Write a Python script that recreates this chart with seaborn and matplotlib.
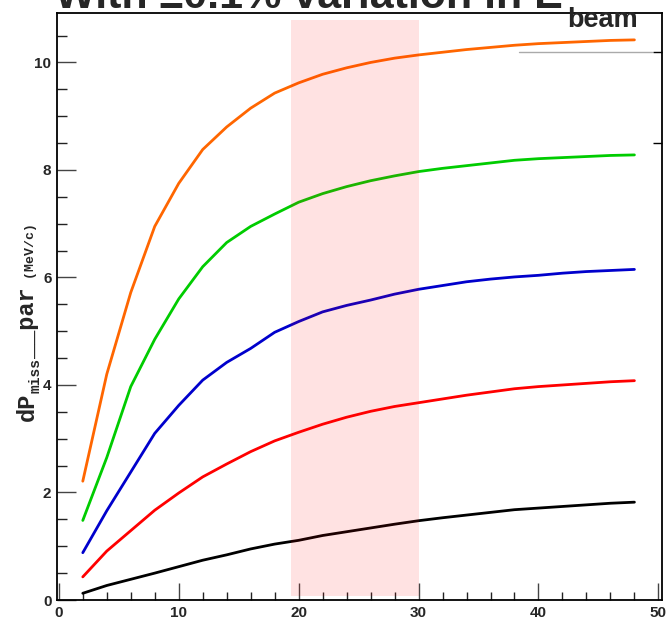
import numpy as np
import pandas as pd
import matplotlib
matplotlib.use("Agg")
import matplotlib.pyplot as plt
import seaborn as sns

# Beam energy points (GeV) shared by all curves
e_beam = [2, 4, 6, 8, 10, 12, 14, 16, 18, 20, 22, 24,
          26, 28, 30, 32, 34, 36, 38, 40, 42, 44, 46, 48]

# dP_miss parallel shift (MeV/c) for each curve
curve_orange = [2.21, 4.20, 5.72, 6.95, 7.75, 8.38, 8.80, 9.15, 9.43, 9.62, 9.78, 9.90,
                10.00, 10.08, 10.14, 10.19, 10.24, 10.28, 10.32, 10.35, 10.37, 10.39, 10.41, 10.42]
curve_green = [1.48, 2.65, 3.97, 4.85, 5.60, 6.20, 6.65, 6.95, 7.18, 7.40, 7.56, 7.69,
               7.80, 7.89, 7.97, 8.03, 8.08, 8.13, 8.18, 8.21, 8.23, 8.25, 8.27, 8.28]
curve_blue = [0.88, 1.66, 2.38, 3.10, 3.62, 4.09, 4.42, 4.68, 4.98, 5.18, 5.36, 5.48,
              5.58, 5.69, 5.78, 5.85, 5.92, 5.97, 6.01, 6.04, 6.08, 6.11, 6.13, 6.15]
curve_red = [0.43, 0.91, 1.29, 1.67, 1.99, 2.29, 2.53, 2.76, 2.96, 3.12, 3.27, 3.40,
             3.51, 3.60, 3.67, 3.74, 3.81, 3.87, 3.93, 3.97, 4.00, 4.03, 4.06, 4.08]
curve_black = [0.125, 0.27, 0.385, 0.50, 0.62, 0.74, 0.84, 0.95, 1.04, 1.11, 1.20, 1.27,
               1.34, 1.41, 1.475, 1.53, 1.58, 1.63, 1.68, 1.71, 1.74, 1.77, 1.80, 1.82]

curve_names = ["orange", "green", "blue", "red", "black"]
curve_colors = ["#FF6600", "#00CC00", "#0000CC", "#FF0000", "#000000"]

# Highlighted beam-energy window
band_lo, band_hi = 19.33, 30.0

sns.set_style("white")

frames = []
for name, vals in zip(curve_names,
                      [curve_orange, curve_green, curve_blue, curve_red, curve_black]):
    frames.append(pd.DataFrame({"E": e_beam, "dP": vals, "curve": name}))
df = pd.concat(frames, ignore_index=True)

W, H = 670, 624
fig = plt.figure(figsize=(W / 100, H / 100), dpi=100)
ax = fig.add_axes([57 / W, 24 / H, 605 / W, 587 / H])

sns.lineplot(data=df, x="E", y="dP", hue="curve", hue_order=curve_names,
             palette=dict(zip(curve_names, curve_colors)), estimator=None,
             sort=False, linewidth=2.0, legend=False, ax=ax)

ax.axvspan(band_lo, band_hi, ymin=0.006, ymax=0.988, color="#FF0000",
           alpha=0.115, linewidth=0, zorder=5)

ax.set_xlim(-0.15, 50.3)
ax.set_ylim(0, 10.92)
ax.set_xlabel("")
ax.set_ylabel("")

ax.set_xticks(np.arange(0, 51, 10))
ax.set_xticks(np.arange(0, 51, 2), minor=True)
ax.set_yticks(np.arange(0, 11, 2))
ax.set_yticks(np.arange(0, 10.9, 0.5), minor=True)

tick_font = dict(family="Liberation Sans", weight="bold", size=11)
ax.set_xticklabels([f"{int(v)}" for v in np.arange(0, 51, 10)], fontdict=tick_font)
ax.set_yticklabels([f"{int(v)}" for v in np.arange(0, 11, 2)], fontdict=tick_font)

ax.tick_params(axis="x", which="major", direction="in", length=12, width=1.0,
               color="#444444", pad=4, top=False, bottom=True)
ax.tick_params(axis="x", which="minor", direction="in", length=6, width=1.0,
               color="#222222", top=False, bottom=True)
ax.tick_params(axis="y", which="major", direction="in", length=13.5, width=1.0,
               color="#444444", pad=4, left=True, right=False)
ax.tick_params(axis="y", which="minor", direction="in", length=7.5, width=1.0,
               color="#222222", left=True, right=False)

for sp in ax.spines.values():
    sp.set_visible(True)
    sp.set_color("black")
    sp.set_linewidth(1.3)

# Short reference rule near the upper right corner
ax.axhline(10.19, xmin=0.764, xmax=0.983, color="#AAAAAA", linewidth=1.0)

# Right-hand axis ticks
axr = ax.twinx()
axr.set_ylim(ax.get_ylim())
axr.set_yticks([8.5, 10.19])
axr.set_yticklabels([])
axr.tick_params(axis="y", direction="in", length=6.5, width=1.0, color="black")
for sp in axr.spines.values():
    sp.set_visible(False)

renderer = fig.canvas.get_renderer()

# Title with subscript
t_main = fig.text(55 / W, (H - 8) / H, "With \u00b10.1% variation in E",
                  family="Liberation Sans", weight="bold", fontsize=31,
                  ha="left", va="baseline")
bb = t_main.get_window_extent(renderer)
fig.text((bb.x1 + 4) / W, (H - 27) / H, "beam", family="Liberation Sans",
         weight="bold", fontsize=19.5, ha="left", va="baseline")

# Rotated y-axis title assembled from pieces of different sizes
mono = "Liberation Mono"
pieces = [("dP", 34, 17, "bold"),
          ("miss", 40, 10.5, "bold"),
          ("__par", 34, 17, "bold"),
          (" (MeV/c)", 34, 9.5, "bold")]
y_cur = H - 421
for txt, bx, size, wt in pieces:
    t = fig.text(bx / W, y_cur / H, txt, rotation=90, rotation_mode="anchor",
                 ha="left", va="baseline", family=mono, weight=wt, fontsize=size)
    y_cur = t.get_window_extent(renderer).y1

fig.savefig("out.png", dpi=100)
